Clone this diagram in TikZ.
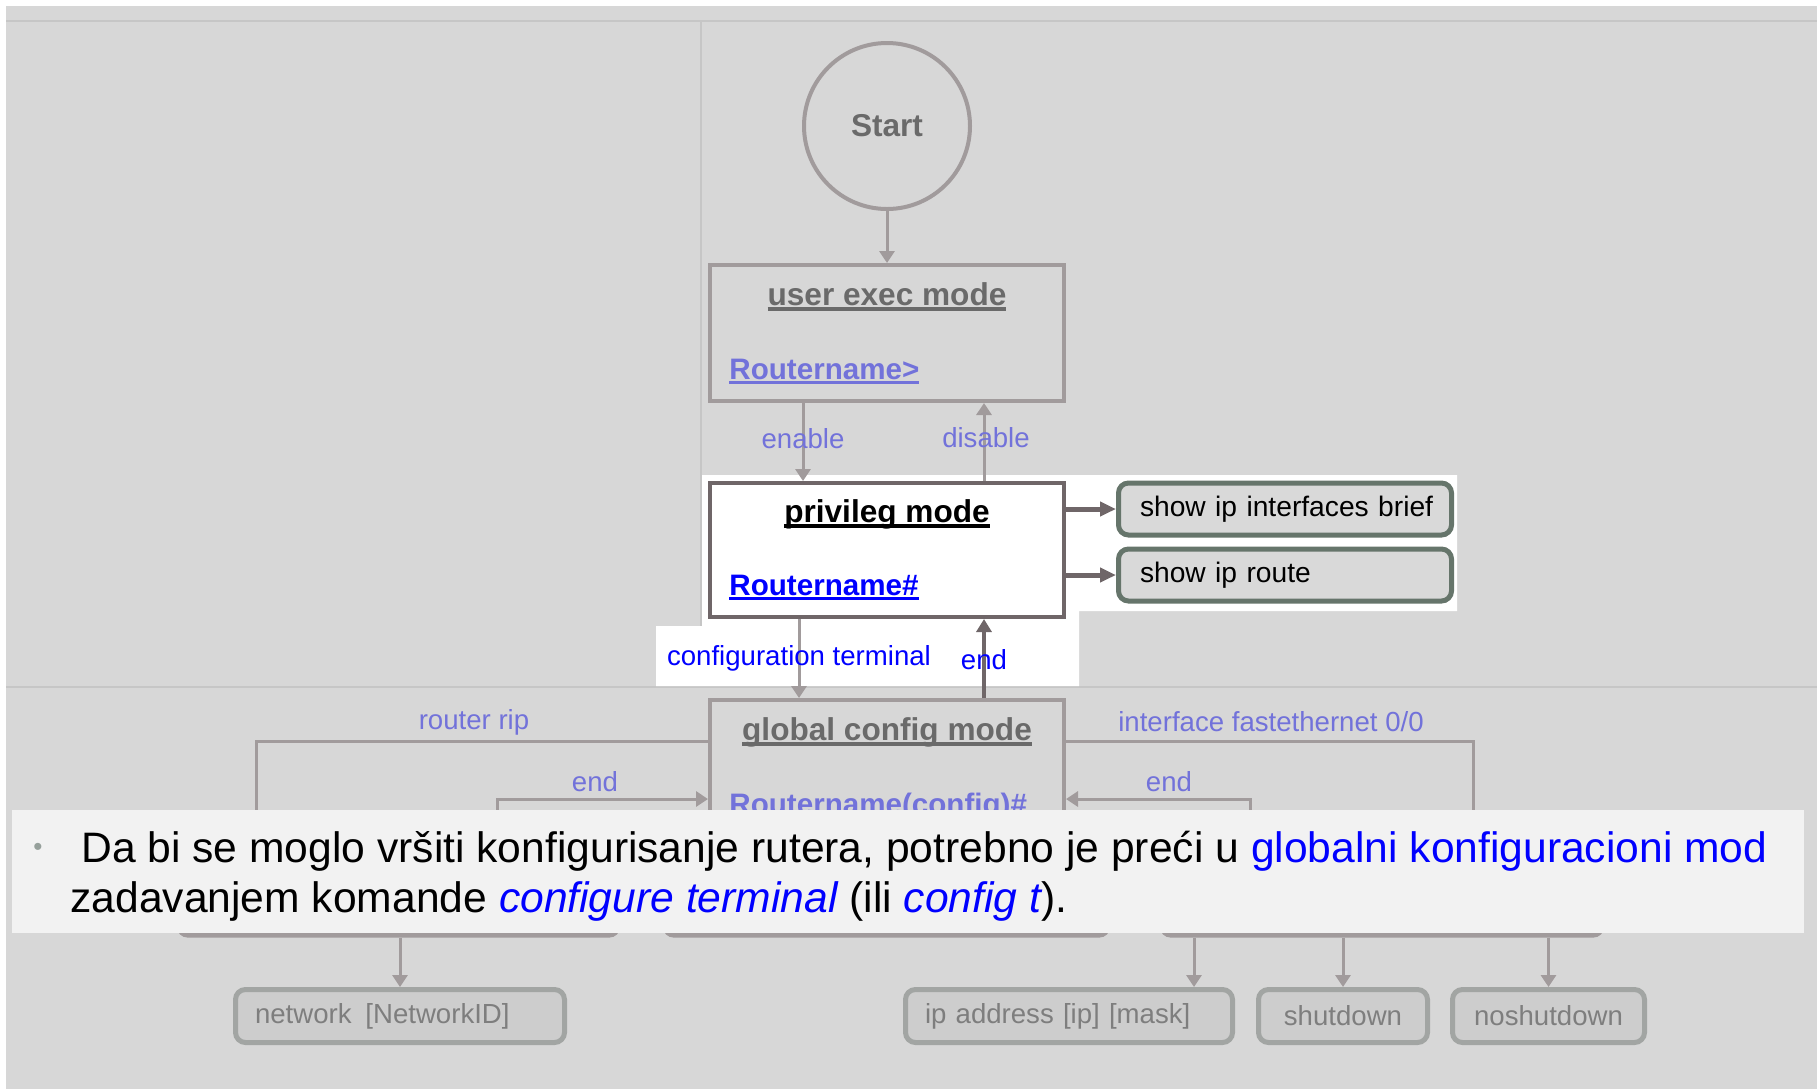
\documentclass[tikz,border=0pt]{standalone}
\usepackage{fontspec}
\setmainfont{Liberation Sans}
\usetikzlibrary{arrows.meta,calc}

\definecolor{bggray}{RGB}{215,215,215}
\definecolor{faintline}{RGB}{198,198,198}
\definecolor{fadeline}{RGB}{161,155,156}
\definecolor{privline}{RGB}{111,102,104}
\definecolor{showline}{RGB}{102,117,107}
\definecolor{showfill}{RGB}{217,217,217}
\definecolor{lowline}{RGB}{162,165,163}
\definecolor{lowfill}{RGB}{205,205,205}
\definecolor{lowtext}{RGB}{126,126,126}
\definecolor{titlegray}{RGB}{106,106,106}
\definecolor{fadeblue}{RGB}{114,114,218}
\definecolor{noteblue}{RGB}{0,0,255}
\definecolor{notefill}{RGB}{242,242,242}
\definecolor{bulletgray}{RGB}{150,160,155}

\newsavebox\ulbox
\newcommand\titleul[1]{\sbox\ulbox{#1}\rlap{\rule[-3pt]{\wd\ulbox}{2pt}}\usebox\ulbox}
\newcommand\promptul[1]{\sbox\ulbox{#1}\rlap{\rule[-2.5pt]{\wd\ulbox}{1.3pt}}\usebox\ulbox}

\begin{document}
\begin{tikzpicture}[x=0.5pt,y=-0.5pt,
  startnode/.style={circle, draw=fadeline, line width=2pt, minimum size=83pt, inner sep=0pt, text=titlegray, font=\bfseries\fontsize{15.8}{19}\selectfont},
  modebox/.style={draw=fadeline, line width=2pt, minimum width=177pt, inner sep=0pt},
  modetitle/.style={anchor=base, inner sep=0pt, text=titlegray, font=\bfseries\fontsize{15.8}{19}\selectfont},
  promptlbl/.style={anchor=base west, inner sep=0pt, text=fadeblue, font=\bfseries\fontsize{14.8}{18}\selectfont},
  cmdlabel/.style={inner sep=0pt, text=fadeblue, font=\fontsize{13.8}{16}\selectfont},
  flowarrow/.style={draw=fadeline, line width=1.5pt, -{Triangle[width=7.5pt,length=6pt]}},
  privarrow/.style={draw=privline, line width=2pt, -{Triangle[width=7.5pt,length=6.5pt]}},
  showarrow/.style={draw=privline, line width=2.5pt, -{Triangle[width=7pt,length=8pt]}},
  showbox/.style={draw=showline, fill=showfill, line width=2.5pt, rounded corners=5pt, minimum height=26pt, text width=145pt, inner xsep=10.75pt, align=left, font=\fontsize{14.1}{17}\selectfont},
  hidbox/.style={draw=fadeline, line width=2.5pt, rounded corners=4pt, minimum height=42.5pt},
  lowbox/.style={draw=lowline, fill=lowfill, line width=2.5pt, rounded corners=5pt, minimum height=26.5pt, inner xsep=9.75pt, text=lowtext, font=\fontsize{13.8}{16}\selectfont},
  notetext/.style={anchor=base west, inner sep=0pt, font=\fontsize{21.3}{25}\selectfont}]

\useasboundingbox (0,0) rectangle (1817,1089);
\fill[white] (0,0) rectangle (1817,1089);
\fill[bggray] (6,6) rectangle (1817,1089);
\draw[faintline, line width=1pt] (6,21) -- (1817,21);
\draw[faintline, line width=0.75pt] (701,21) -- (701,626);
\draw[faintline, line width=0.75pt] (6,687) -- (1817,687);
\fill[white] (702,475) -- (1457,475) -- (1457,611) -- (1079,611) -- (1079,686) -- (656,686) -- (656,626) -- (702,626) -- cycle;
\coordinate (patchedge) at (0,686);

% modes
\node[startnode] (start) at (887,126) {Start};
\node[modebox, minimum height=68pt] (user) at (887,333) {};
\node[modetitle] (usertitle) at (887,305) {\titleul{user exec mode}};
\node[promptlbl] (userprompt) at (729,379) {\promptul{Routername>}};

\node[modebox, draw=privline, fill=white, minimum height=67pt] (priv) at (887,550) {};
\node[modetitle, text=black] (privtitle) at (887,522) {\titleul{privileg mode}};
\node[promptlbl, text=noteblue] (privprompt) at (729,595) {\promptul{Routername\#}};

\node[modebox, minimum height=90pt] (global) at (887,790) {};
\node[modetitle] (globaltitle) at (887,740) {\titleul{global config mode}};
\node[promptlbl] (globalprompt) at (729,814) {\promptul{Routername(config)\#}};

\node[showbox] (showint) at (1285,509) {\mbox{show ip interfaces brief}};
\node[showbox] (showroute) at (1285,575) {\mbox{show ip route}};

\draw[flowarrow] (start) -- (user);
\draw[flowarrow] ($(user.south)+(-84,0)$) -- ($(priv.north)+(-84,0)$);
\draw[flowarrow] ($(priv.north)+(97,0)$) -- ($(user.south)+(97,0)$);
\node[cmdlabel] (enablelbl) at (803,439) {enable};
\node[cmdlabel] (disablelbl) at (986,438) {disable};

\draw[showarrow] (priv.east |- showint.west) -- (showint.west);
\draw[showarrow] (priv.east |- showroute.west) -- (showroute.west);

\draw[flowarrow] ($(priv.south)+(-88,0)$) -- ($(global.north)+(-88,0)$);
\draw[privline, line width=2pt] ($(priv.south)+(-88,0)$) -- ($(priv.south)+(-88,0)$ |- patchedge);
\draw[privarrow] ($(global.north)+(97,0)$) -- ($(priv.south)+(97,0)$);
\draw[fadeline, line width=2pt] ($(global.north)+(97,0)$) -- ($(global.north)+(97,0)$ |- patchedge);
\node[cmdlabel, text=noteblue] (conflbl) at (799,658) {configuration terminal};
\node[cmdlabel, text=noteblue] (endlbl) at (984,660) {end};

% sub modes, under the note
\node[hidbox, minimum width=219pt] (ripbox) at (398.5,892.5) {};
\node[hidbox, minimum width=221pt] (midbox) at (886.5,892.5) {};
\node[hidbox, minimum width=219.5pt] (intbox) at (1382,892.5) {};

\coordinate (ripcorner) at (256,741);
\coordinate (endlcorner) at (497,799);
\coordinate (intcorner) at (1473,741);
\coordinate (endrcorner) at (1250,799);
\draw[flowarrow] (ripcorner -| global.west) -- (ripcorner) -- (ripcorner |- ripbox.north);
\draw[flowarrow] (endlcorner |- ripbox.north) -- (endlcorner) -- (endlcorner -| global.west);
\draw[flowarrow] (intcorner -| global.east) -- (intcorner) -- (intcorner |- intbox.north);
\draw[flowarrow] (endrcorner |- intbox.north) -- (endrcorner) -- (endrcorner -| global.east);
\node[cmdlabel] (riplbl) at (474,722) {router rip};
\node[cmdlabel] (endllbl) at (595,782) {end};
\node[cmdlabel] (intlbl) at (1271,722) {interface fastethernet 0/0};
\node[cmdlabel] (endrlbl) at (1169,782) {end};

% note
\node[fill=notefill, minimum width=896pt, minimum height=61.5pt, inner sep=0pt] (note) at (908,871.5) {};
\node[inner sep=0pt, text=bulletgray, font=\fontsize{13}{15}\selectfont] (bullet) at (38,849) {•};
\node[notetext] (noteline1) at (81,862) {Da bi se moglo vršiti konfigurisanje rutera, potrebno je preći u \textcolor{noteblue}{globalni konfiguracioni mod}};
\node[notetext] (noteline2) at (70,912) {zadavanjem komande \textcolor{noteblue}{\itshape configure terminal} (ili \textcolor{noteblue}{\itshape config t}).};

% commands
\node[lowbox, text width=145pt, align=left] (network) at (400,1016) {network\enspace[NetworkID]};
\node[lowbox, text width=144pt, align=left] (ipaddr) at (1069,1016) {ip address [ip] [mask]};
\node[lowbox, minimum width=84.5pt] (shutdown) at (1343,1016) {shutdown};
\node[lowbox, minimum width=96pt] (noshutdown) at (1548.5,1016) {noshutdown};

\coordinate (ipin) at (1194,0);
\draw[flowarrow] (network.north |- ripbox.south) -- (network.north);
\draw[flowarrow] (ipin |- intbox.south) -- (ipin |- ipaddr.north);
\draw[flowarrow] (shutdown.north |- intbox.south) -- (shutdown.north);
\draw[flowarrow] (noshutdown.north |- intbox.south) -- (noshutdown.north);
\end{tikzpicture}
\end{document}
